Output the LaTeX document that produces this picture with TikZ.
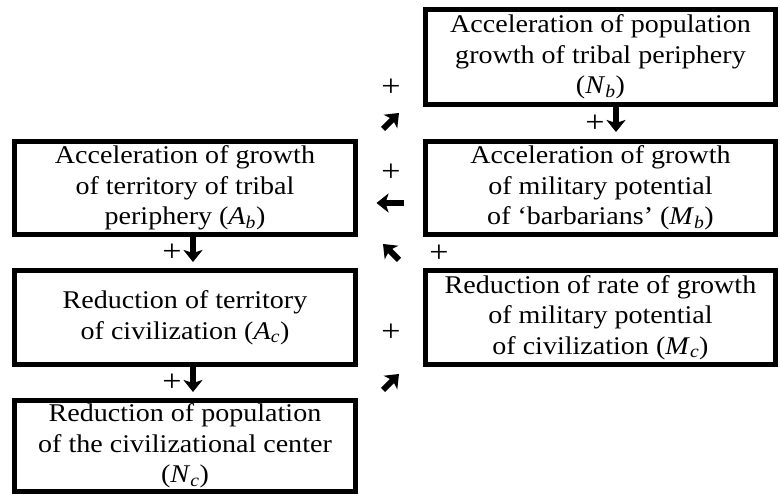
\documentclass[tikz,border=0pt]{standalone}
\usepackage{fontspec}
\setmainfont{Liberation Serif}[FakeStretch=1.1]
\usepackage{tikz}
\usetikzlibrary{arrows.meta,positioning,calc}

\newcommand{\varsub}[2]{\textit{#1}\textsubscript{\textit{#2}}}

\begin{document}
\begin{tikzpicture}[
        x=1pt, y=1pt,
        box/.style={rectangle, draw, line width=5.5pt, align=center, inner sep=0pt, font=\fontsize{25.5}{30.5}\selectfont},
        leftbox/.style={box, minimum width=341pt},
        rightbox/.style={box, minimum width=350pt},
        sign/.style={inner sep=0pt, font=\fontsize{31}{31}\selectfont},
        fat/.style={line width=6pt, -{Stealth[length=12pt, width=19pt, inset=3pt]}}
      ]
        \useasboundingbox (0,0) rectangle (780,494);

        % Barbarian side
        \node[rightbox, minimum height=95pt] (nb) at (600.5,437) {Acceleration of population\\growth of tribal periphery\\(\varsub{N}{b})};
        \node[rightbox, minimum height=93pt] (mb) at (600.5,306) {Acceleration of growth\\of military potential\\of `barbarians' (\varsub{M}{b})};
        \node[leftbox, minimum height=93pt] (ab) at (185,306) {Acceleration of growth\\of territory of tribal\\periphery (\varsub{A}{b})};

        % Civilization side
        \node[rightbox, minimum height=94pt] (mc) at (600.5,176.5) {Reduction of rate of growth\\of military potential\\of civilization (\varsub{M}{c})};
        \node[leftbox, minimum height=94pt] (ac) at (185,176.5) {Reduction of territory\\of civilization (\varsub{A}{c})};
        \node[leftbox, minimum height=91pt] (nc) at (185,48) {Reduction of population\\of the civilizational center\\(\varsub{N}{c})};

        % Signs
        \node[sign] (p1) at (391,406) {+};
        \node[sign] (p2) at (595,370) {+};
        \node[sign] (p3) at (391,321) {+};
        \node[sign] (p4) at (172,241) {+};
        \node[sign] (p5) at (439,240) {+};
        \node[sign] (p6) at (391,161) {+};
        \node[sign] (p7) at (172,111) {+};

        % Arrows
        \coordinate (d1) at (616,374.5);
        \coordinate (d2) at (193,244.5);
        \coordinate (d3) at (193,114.5);
        \coordinate (u1) at (391,373);
        \coordinate (l1) at (390,291);
        \coordinate (u2) at (391,242);
        \coordinate (u3) at (391,112);
        \draw[fat] (d1) ++(0,12.5) -- ++(0,-25);
        \draw[fat] (d2) ++(0,12.5) -- ++(0,-25);
        \draw[fat] (d3) ++(0,12.5) -- ++(0,-25);
        \draw[fat] (u1) ++(-8,-8) -- ++(16,16);
        \draw[fat] (l1) ++(13.5,0) -- ++(-27,0);
        \draw[fat] (u2) ++(8,-8) -- ++(-16,16);
        \draw[fat] (u3) ++(-8,-8) -- ++(16,16);
      \end{tikzpicture}
\end{document}
